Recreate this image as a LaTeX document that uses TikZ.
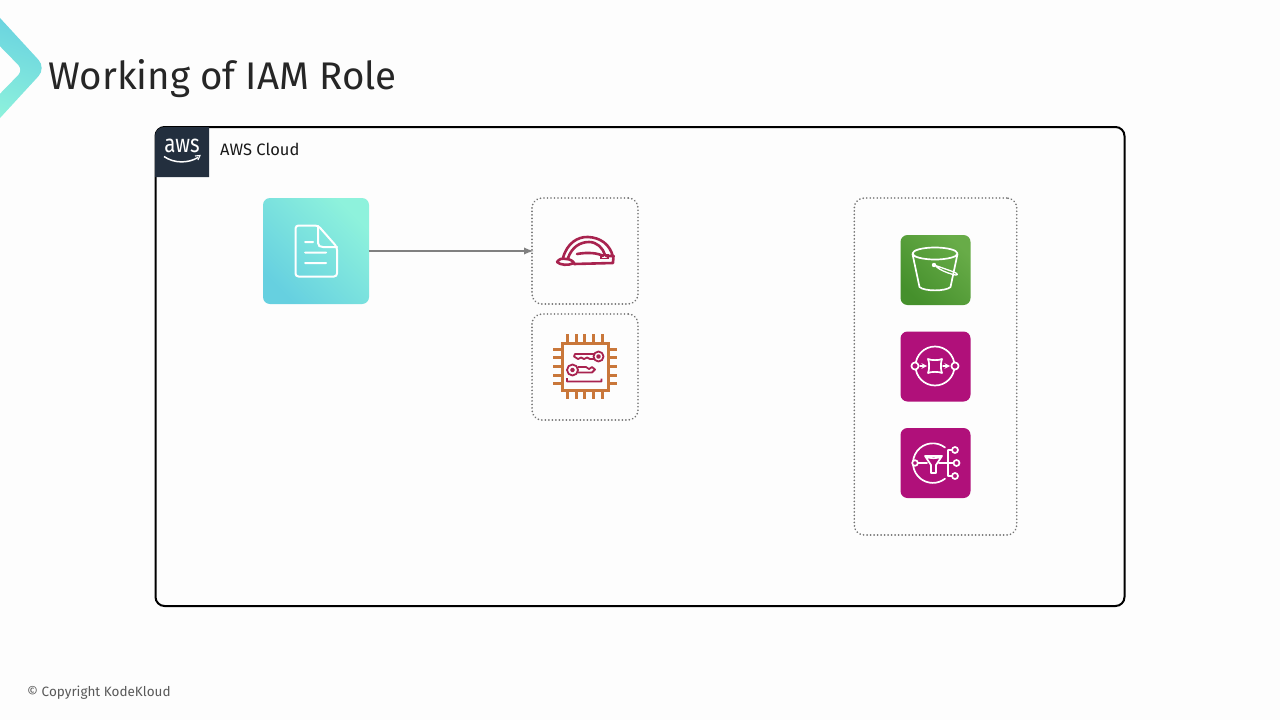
\documentclass[tikz,border=0pt]{standalone}
\usepackage{fontspec}
\setmainfont{Fira Sans}
\usetikzlibrary{arrows,positioning,shapes,calc}
\definecolor{pagebg}{HTML}{FDFDFD}
\definecolor{awsdark}{HTML}{232F3E}
\definecolor{tealhi}{HTML}{8EF2DC}
\definecolor{tealmid}{HTML}{7FE6DB}
\definecolor{teallo}{HTML}{66D0E0}
\definecolor{s3lo}{HTML}{45902C}
\definecolor{s3hi}{HTML}{68AC48}
\definecolor{appmag}{HTML}{B0107A}
\definecolor{hatred}{HTML}{A8234F}
\definecolor{chiporange}{HTML}{C9773A}
\tikzset{
  tile/.style={rectangle,rounded corners=7pt,minimum size=70pt,inner sep=0pt,outer sep=0pt},
  dotbox/.style={rectangle,draw=black!55,line width=1.8pt,line cap=round,dash pattern=on 0.1pt off 3.4pt,
    rounded corners=10pt,inner sep=0pt,outer sep=0pt},
  glyph/.style={draw=white,line width=1.7pt,line join=round,line cap=round}
}
\begin{document}
\begin{tikzpicture}[x=1pt,y=-1pt,node distance=269pt,on grid]
  \useasboundingbox (0,0) rectangle (1280,720);
  \fill[pagebg] (0,0) rectangle (1280,720);
  % corner mark
  \shade[top color=teallo,bottom color=tealhi,shading angle=-20,rounded corners=11pt]
    (-11,6) -- (46,68) -- (-11,130) -- cycle;
  \fill[pagebg,rounded corners=7pt] (-20,26) -- (23,70) -- (-20,114) -- cycle;
  \node[anchor=west,inner sep=0pt,font=\fontsize{38.5}{38.5}\selectfont,text=black!85] (title) at (48,79) {Working of IAM Role};
  \node[anchor=west,inner sep=0pt,font=\fontsize{13.5}{15}\selectfont,text=black!65] (copy) at (27,692.5) {© Copyright KodeKloud};

  % cloud frame
  \node[rectangle,draw=black,line width=2pt,rounded corners=9pt,minimum width=969pt,minimum height=479pt,
    inner sep=0pt,outer sep=0pt] (cloud) at (640,366.5) {};
  \fill[awsdark] (155,177) -- (155,136) .. controls (155,131) and (159,127) .. (164,127) -- (209,127) -- (209,177) -- cycle;
  \node[inner sep=0pt,text=white,font=\fontsize{25}{25}\selectfont] (awslogo) at (182,146) {\scalebox{.82}[1]{aws}};
  \draw[white,line width=1.5pt] (164,156.5) .. controls (174,163.5) and (188,163.5) .. (198,157.5);
  \draw[white,line width=1.1pt] (195,156) -- (200,155.5) -- (198,160);
  \node[anchor=west,inner sep=0pt,font=\fontsize{16.5}{17}\selectfont,text=black!90] (cloudlabel) at (220,149.5) {AWS Cloud};

  % policy document
  \node[rectangle,rounded corners=7pt,minimum size=106pt,inner sep=0pt,outer sep=0pt,
    left color=tealhi,middle color=tealmid,right color=teallo,shading angle=-45] (doc) at (316,251) {};
  \draw[white,line width=2pt,line join=round,line cap=round,rounded corners=3pt]
    (318,225.5) -- (295.5,225.5) -- (295.5,276.5) -- (337,276.5) -- (337,247) -- cycle;
  \draw[white,line width=2pt,line join=round,line cap=round]
    (318,226) -- (318,243) .. controls (318,246) and (320,247) .. (323,247) -- (337,247)
    (305,242) -- (313,242) (305,252.5) -- (326,252.5) (305,263) -- (326,263);

  % role and key boxes
  \node[dotbox,minimum size=106pt,right=of doc] (role) {};
  \node[dotbox,minimum size=106pt,below=116pt of role] (cred) {};
  \node[dotbox,minimum width=162.5pt,minimum height=337pt] (services) at (935.5,366.5) {};
  \draw[-latex,black!50,line width=2.2pt,shorten >=-1.5pt] (doc) -- (role);

  % helmet
  \draw[hatred,line width=2.6pt,line join=round,line cap=round]
    (563,258) .. controls (567,243) and (578,236.5) .. (588,237)
    .. controls (600,237.5) and (610,244) .. (613,257)
    (568,258) .. controls (572,247) and (580,242) .. (589,242)
    .. controls (597,242) and (603,248) .. (605,255)
    (577,254) .. controls (588,252) and (598,253) .. (603,256)
    (557,262) .. controls (559,259) and (562,258) .. (566,259)
    .. controls (570,259) and (573,261) .. (574,263)
    .. controls (568,266) and (560,265) .. (557,262)
    (574,264) -- (613,263) -- (613.5,256) -- (606,256);
  \draw[hatred,line width=1.8pt] (601,255) rectangle (608,258.5);

  % chip with keys
  \draw[chiporange,line width=3pt] (562,343) rectangle (608,390);
  \foreach \p in {0,1,2,3,4}{
    \draw[chiporange,line width=3pt] ($(567.5,334)+(\p*8.7,0)$) -- ++(0,9);
    \draw[chiporange,line width=3pt] ($(567.5,390)+(\p*8.7,0)$) -- ++(0,9);
    \draw[chiporange,line width=3pt] ($(553,349)+(0,\p*8.7)$) -- ++(9,0);
    \draw[chiporange,line width=3pt] ($(608,349)+(0,\p*8.7)$) -- ++(9,0);
  }
  \draw[hatred,line width=1.8pt,line join=round]
    (598.5,356.5) circle[radius=5] (598.5,356.5) circle[radius=1.5]
    (593.5,354) -- (575,354) -- (574,356.5) -- (578,359) -- (581,357.5) -- (584,359) -- (587,357.5) -- (590,359) -- (593.5,359)
    (572.5,370) circle[radius=5.5] (572.5,370) circle[radius=1.5]
    (578,367) -- (586,367) -- (589,369) -- (592,367) -- (595,369.5) -- (592,372.5) -- (578,372.5)
    (567,378) -- (567,381.5) -- (601.5,381.5) -- (601.5,378.5);

  % service tiles
  \node[tile,left color=s3hi,right color=s3lo,shading angle=-45] (bucket) at (935.5,270) {};
  \node[tile,fill=appmag,below=96.5pt of bucket] (queue) {};
  \node[tile,fill=appmag,below=96.5pt of queue] (topic) {};

  % bucket
  \draw[glyph] (935,253.5) ellipse[x radius=22.5,y radius=6]
    (912.5,254) -- (919.5,287) .. controls (924,291.5) and (946,291.5) .. (950.5,287) -- (957.5,254);
  \draw[glyph,line width=1.3pt] (934,265) -- (954,272) .. controls (959,274) and (958,276) .. (953,274.5)
    .. controls (946,272.5) and (940,270) .. (936,266.5);
  \fill[white] (934,265) circle[radius=2.2];

  % queue
  \draw[glyph] (935,366) circle[radius=19.5];
  \draw[glyph,fill=appmag] (915,366) circle[radius=3.6] (955,366) circle[radius=3.6]
    (928,359) .. controls (931,360.5) and (939,360.5) .. (942,359)
    .. controls (940.5,362) and (940.5,370) .. (942,373)
    .. controls (939,371.5) and (931,371.5) .. (928,373)
    .. controls (929.5,370) and (929.5,362) .. (928,359);
  \draw[glyph,-stealth,line width=1.4pt] (920,366) -- (927,366);
  \draw[glyph,-stealth,line width=1.4pt] (943,366) -- (950,366);

  % topic
  \draw[glyph] (945,447.5) arc[start angle=-52,end angle=-308,radius=19.8]
    (925,456) -- (942,456) -- (936,465) -- (936,473) -- (931,473) -- (931,465) -- cycle
    (925,456) .. controls (929,459) and (938,459) .. (942,456)
    (918,463) -- (927,463) (939,463) -- (953,463)
    (948,450) -- (948,476)
    (948,450) -- (952,450) (948,476) -- (952,476);
  \draw[glyph,fill=appmag] (915,463) circle[radius=2.8]
    (955,450) circle[radius=3] (956.5,463) circle[radius=3] (955,476) circle[radius=3];
\end{tikzpicture}
\end{document}
